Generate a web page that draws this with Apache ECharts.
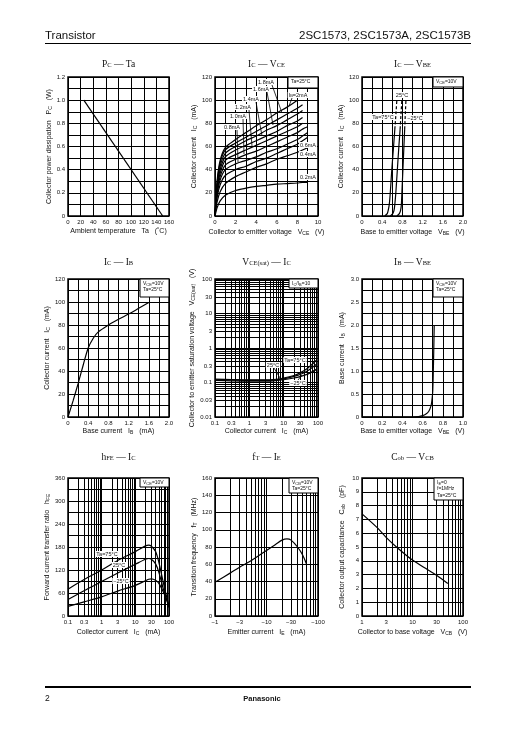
<!DOCTYPE html>
<html><head><meta charset="utf-8">
<script src="https://cdn.jsdelivr.net/npm/echarts@6/dist/echarts.min.js"></script>
<style>html,body{margin:0;padding:0;background:#fff}#c{width:516px;height:729px}</style>
</head><body><div id="c"></div>
<script>
// ---------- DATA ----------
// 1) PC - Ta
const PCTA_TA = [25, 150];
const PCTA_PC = [1.0, 0.0];

// 2) IC - VCE (Ta=25°C), one array per base current
const ICVCE_VCE = [0, 0.2, 0.5, 1, 2, 3, 4, 5, 6, 7, 8, 8.5, 9];
const ICVCE_IB20 = [0, 30, 48, 59, 66, 72, 78, 83, 89, 94, 100, null, null];
const ICVCE_IB18 = [0, 28, 46, 57, 63, 68, 73, 78, 83, 88, 93, 96, null];
const ICVCE_IB16 = [0, 26, 43, 54, 60, 65, 69, 74, 78, 83, 88, 91, null];
const ICVCE_IB14 = [0, 24, 40, 51, 57, 61, 65, 69, 73, 78, 82, 85, null];
const ICVCE_IB12 = [0, 22, 37, 48, 53, 57, 61, 65, 69, 73, 77, 80, null];
const ICVCE_IB10 = [0, 20, 34, 44, 49, 53, 56, 60, 64, 68, 72, 75, 77];
const ICVCE_IB08 = [0, 18, 31, 40, 45, 48, 51, 55, 58, 62, 66, 69, 72];
const ICVCE_IB06 = [0, 16, 27, 35, 40, 43, 47, 50, 54, 58, 62, 65, 68];
const ICVCE_IB04 = [0, 12, 21, 28, 34, 38, 42, 45, 49, 52, 55, 57, 59];
const ICVCE_IB02 = [0, 7, 13, 18, 22, 24, 25.5, 26.5, 27.5, 28, 28.5, 29, 29];

// 3) IC - VBE (VCE=10V)
const ICVBE_IC = [0, 2, 5, 10, 20, 40, 60, 75, 90, 100];
const ICVBE_V75 = [0.45, 0.50, 0.52, 0.54, 0.56, 0.59, 0.625, 0.65, 0.675, 0.69];
const ICVBE_V25 = [0.56, 0.61, 0.635, 0.65, 0.67, 0.70, 0.73, 0.755, 0.775, 0.79];
const ICVBE_VM25 = [0.69, 0.74, 0.765, 0.78, 0.79, 0.81, 0.83, 0.845, 0.86, 0.87];

// 4) IC - IB
const ICIB_IB = [0, 0.1, 0.2, 0.3, 0.4, 0.5, 0.6, 0.8, 1.0, 1.2, 1.4, 1.6];
const ICIB_IC = [0, 14, 29, 45, 60, 68.5, 74, 80, 85, 89.5, 94.5, 99.5];

// 5) VCE(sat) - IC (IC/IB=10)
const VSAT_IC = [0.1, 0.3, 1, 3, 5, 10, 20, 30, 50, 90];
const VSAT_T75 = [0.125, 0.122, 0.12, 0.12, 0.122, 0.135, 0.16, 0.19, 0.26, 0.44];
const VSAT_T25 = [0.12, 0.118, 0.115, 0.115, 0.117, 0.128, 0.15, 0.17, 0.22, 0.34];
const VSAT_TM25 = [0.115, 0.112, 0.11, 0.11, 0.112, 0.12, 0.135, 0.148, 0.175, 0.24];

// 6) IB - VBE
const IBVBE_VBE = [0, 0.5, 0.56, 0.6, 0.63, 0.66, 0.68, 0.69, 0.70, 0.705, 0.71, 0.715];
const IBVBE_IB = [0, 0, 0.01, 0.03, 0.06, 0.12, 0.22, 0.32, 0.55, 0.9, 1.4, 2.0];

// 7) hFE - IC (VCE=10V)
const HFE_IC = [0.1, 0.3, 1, 3, 10, 20, 25, 30, 40, 50, 70, 100];
const HFE_T75 = [70, 95, 120, 145, 168, 183, 185, 182, 168, 140, 82, 25];
const HFE_T25 = [43, 66, 90, 112, 135, 148, 150, 148, 136, 114, 66, 22];
const HFE_TM25 = [25, 37, 50, 65, 80, 92, 96, 97, 93, 85, 60, 28];

// 8) fT - IE (VCB=10V), emitter current magnitude (negative current)
const FT_IE = [1, 2, 3, 5, 10, 15, 20, 25, 30, 40, 50, 60];
const FT_FT = [39, 50, 56.5, 64, 76, 83, 88, 89.5, 88, 80, 71, 60];

// 9) Cob - VCB
const COB_VCB = [1, 2, 3, 5, 10, 20, 30, 50];
const COB_COB = [7.4, 6.4, 5.7, 4.95, 4.05, 3.35, 2.95, 2.35];

// axis tick labels
const LOG_LBL_01_100 = [0.1, 0.3, 1, 3, 10, 30, 100];
const LOG_LBL_001_100 = [0.01, 0.03, 0.1, 0.3, 1, 3, 10, 30, 100];
const LOG_LBL_1_100 = [1, 3, 10, 30, 100];

// ---------- STYLE / HELPERS ----------
const SANS = '"Liberation Sans", Arial, sans-serif';
const SERIF = '"Liberation Serif", "Times New Roman", serif';
const INK = '#111';
const zip = (xs, ys) => xs.map((x, i) => [x, ys[i]]);
const f1 = v => (v === 0 ? '0' : v.toFixed(1));
const nameRich = { s: { fontFamily: SANS, fontSize: 5, color: INK, verticalAlign: 'bottom', padding: [3, 0, 0, 0] } };

const grids = [
  { left: 68, top: 77, width: 101, height: 139 },
  { left: 215, top: 77, width: 103, height: 139 },
  { left: 362, top: 77, width: 101, height: 139 },
  { left: 68, top: 279, width: 101, height: 138 },
  { left: 215, top: 279, width: 103, height: 138 },
  { left: 362, top: 279, width: 101, height: 138 },
  { left: 68, top: 478, width: 101, height: 138 },
  { left: 215, top: 478, width: 103, height: 138 },
  { left: 362, top: 478, width: 101, height: 138 }
].map(g => Object.assign({ show: true, borderColor: '#000', borderWidth: 1.5, backgroundColor: '#fff' }, g));

function baseAxis(g, name, gap) {
  return {
    gridIndex: g, name: name, nameLocation: 'middle', nameGap: gap,
    nameTextStyle: { fontFamily: SANS, fontSize: 7, color: INK, rich: nameRich },
    axisLine: { show: false }, axisTick: { show: false },
    axisLabel: { fontFamily: SANS, fontSize: 6, color: INK, margin: 3, showMinLabel: true, showMaxLabel: true },
    splitLine: { show: true, lineStyle: { color: '#000', width: 1 } }
  };
}
function linAxis(g, min, max, interval, minor, name, gap, fmt) {
  const a = baseAxis(g, name, gap);
  a.type = 'value'; a.min = min; a.max = max; a.interval = interval;
  if (fmt) a.axisLabel.formatter = fmt;
  if (minor > 1) {
    a.minorTick = { show: false, splitNumber: minor };
    a.minorSplitLine = { show: true, lineStyle: { color: '#000', width: 1 } };
  }
  return a;
}
function logAxis(g, min, max, labels, name, gap, fmt) {
  const a = baseAxis(g, name, gap);
  const ticks = [];
  for (let e = Math.round(Math.log10(min)); e < Math.round(Math.log10(max)); e++)
    for (let k = 1; k < 10; k++) ticks.push(Number((k * Math.pow(10, e)).toPrecision(3)));
  ticks.push(max);
  a.type = 'log'; a.logBase = 10; a.min = min; a.max = max;
  a.axisTick = { show: false, customValues: ticks };
  a.axisLabel.customValues = labels;
  a.axisLabel.formatter = fmt || (v => String(Number(Number(v).toPrecision(3))));
  return a;
}
function line(g, data, extra) {
  return Object.assign({
    type: 'line', xAxisIndex: g, yAxisIndex: g, data: data, symbol: 'none',
    smooth: 0.3, silent: true, animation: false, z: 5,
    lineStyle: { color: '#000', width: 1.2 }
  }, extra || {});
}

// ---------- AXES ----------
const xAxes = [
  linAxis(0, 0, 160, 20, 1, 'Ambient temperature   Ta   (˚C)', 12),
  linAxis(1, 0, 10, 2, 2, 'Collector to emitter voltage   V{s|CE}   (V)', 12),
  linAxis(2, 0, 2.0, 0.4, 2, 'Base to emitter voltage   V{s|BE}   (V)', 12, f1),
  linAxis(3, 0, 2.0, 0.4, 2, 'Base current   I{s|B}   (mA)', 10, f1),
  logAxis(4, 0.1, 100, LOG_LBL_01_100, 'Collector current   I{s|C}   (mA)', 10),
  linAxis(5, 0, 1.0, 0.2, 2, 'Base to emitter voltage   V{s|BE}   (V)', 10, f1),
  logAxis(6, 0.1, 100, LOG_LBL_01_100, 'Collector current   I{s|C}   (mA)', 12),
  logAxis(7, 1, 100, LOG_LBL_1_100, 'Emitter current   I{s|E}   (mA)', 12, v => '\u2212' + Math.round(v)),
  logAxis(8, 1, 100, LOG_LBL_1_100, 'Collector to base voltage   V{s|CB}   (V)', 12, v => String(Math.round(v)))
];
const yAxes = [
  linAxis(0, 0, 1.2, 0.2, 2, 'Collector power dissipation   P{s|C}   (W)', 15, f1),
  linAxis(1, 0, 120, 20, 2, 'Collector current   I{s|C}   (mA)', 12),
  linAxis(2, 0, 120, 20, 2, 'Collector current   I{s|C}   (mA)', 13.5),
  linAxis(3, 0, 120, 20, 2, 'Collector current   I{s|C}   (mA)', 15),
  logAxis(4, 0.01, 100, LOG_LBL_001_100, 'Collector to emitter saturation voltage   V{s|CE(sat)}   (V)', 14),
  linAxis(5, 0, 3.0, 0.5, 2, 'Base current   I{s|B}   (mA)', 16, f1),
  linAxis(6, 0, 360, 60, 2, 'Forward current transfer ratio   h{s|FE}', 16),
  linAxis(7, 0, 160, 20, 1, 'Transition frequency   f{s|T}   (MHz)', 14),
  linAxis(8, 0, 10, 1, 1, 'Collector output capacitance   C{s|ob}   (pF)', 16)
];

// ---------- SERIES ----------
const series = [
  line(0, zip(PCTA_TA, PCTA_PC), { smooth: false }),
  line(1, zip(ICVCE_VCE, ICVCE_IB20)), line(1, zip(ICVCE_VCE, ICVCE_IB18)),
  line(1, zip(ICVCE_VCE, ICVCE_IB16)), line(1, zip(ICVCE_VCE, ICVCE_IB14)),
  line(1, zip(ICVCE_VCE, ICVCE_IB12)), line(1, zip(ICVCE_VCE, ICVCE_IB10)),
  line(1, zip(ICVCE_VCE, ICVCE_IB08)), line(1, zip(ICVCE_VCE, ICVCE_IB06)),
  line(1, zip(ICVCE_VCE, ICVCE_IB04)), line(1, zip(ICVCE_VCE, ICVCE_IB02))
];
[ICVBE_V75, ICVBE_V25, ICVBE_VM25].forEach(v => {
  const d = zip(v, ICVBE_IC);
  series.push(line(2, d.slice(0, 8), { smooth: 0.2 }));
  series.push(line(2, d.slice(7), { smooth: 0.2, lineStyle: { color: '#000', width: 1.2, type: [3, 2] } }));
});
series.push(line(3, zip(ICIB_IB, ICIB_IC)));
series.push(line(4, zip(VSAT_IC, VSAT_T75)), line(4, zip(VSAT_IC, VSAT_T25)), line(4, zip(VSAT_IC, VSAT_TM25)));
series.push(line(5, zip(IBVBE_VBE, IBVBE_IB), { smooth: 0.2 }));
series.push(line(6, zip(HFE_IC, HFE_T75)), line(6, zip(HFE_IC, HFE_T25)), line(6, zip(HFE_IC, HFE_TM25)));
series.push(line(7, zip(FT_IE, FT_FT)));
series.push(line(8, zip(COB_VCB, COB_COB)));

// ---------- TITLES ----------
const titleRich = { s: { fontFamily: SERIF, fontSize: 6.5, color: INK, verticalAlign: 'bottom', padding: [3, 0, 0, 0] } };
const titleDefs = [
  ['P{s|C} \u2014 Ta', 118.5, 59], ['I{s|C} \u2014 V{s|CE}', 266.5, 59], ['I{s|C} \u2014 V{s|BE}', 412.5, 59],
  ['I{s|C} \u2014 I{s|B}', 118.5, 257], ['V{s|CE(sat)} \u2014 I{s|C}', 266.5, 257], ['I{s|B} \u2014 V{s|BE}', 412.5, 257],
  ['h{s|FE} \u2014 I{s|C}', 118.5, 452], ['f{s|T} \u2014 I{s|E}', 266.5, 452], ['C{s|ob} \u2014 V{s|CB}', 412.5, 452]
];
const titles = titleDefs.map(t => ({
  text: t[0], left: t[1], top: t[2], textAlign: 'center', padding: 0,
  textStyle: { fontFamily: SERIF, fontSize: 9.5, fontWeight: 'normal', color: INK, rich: titleRich }
}));

// ---------- ANNOTATIONS ----------
const smallRich = { s: { fontFamily: SANS, fontSize: 4, fill: INK, verticalAlign: 'bottom', padding: [2, 0, 0, 0] } };
function txt(s, x, y, opts) {
  return Object.assign({
    type: 'text', z: 100,
    style: Object.assign({ text: s, x: x, y: y, fontFamily: SANS, fontSize: 5.5, fill: INK,
      align: 'center', verticalAlign: 'middle', rich: smallRich }, opts || {})
  });
}
function lbl(s, x, y) { return txt(s, x, y, { backgroundColor: '#fff', padding: [0, 1, 0, 1] }); }
function box(x, y, w, h, lines) {
  const els = [{ type: 'rect', z: 99, shape: { x: x, y: y, width: w, height: h }, style: { fill: '#fff', stroke: '#000', lineWidth: 1 } }];
  lines.forEach((s, i) => els.push(txt(s, x + 3, y + 4.5 + i * 6.5, { align: 'left', fontSize: 5 })));
  return els;
}
function seg(x1, y1, x2, y2, w) {
  return { type: 'line', z: 98, shape: { x1: x1, y1: y1, x2: x2, y2: y2 }, style: { stroke: '#000', lineWidth: w || 0.8 } };
}
const graphic = [].concat(
  // header / footer
  txt('Transistor', 45, 36, { align: 'left', fontSize: 11.5 }),
  txt('2SC1573, 2SC1573A, 2SC1573B', 471, 36, { align: 'right', fontSize: 11.5 }),
  seg(45, 43.5, 471, 43.5, 1),
  seg(45, 687, 471, 687, 2),
  txt('2', 45, 699, { align: 'left', fontSize: 8.5 }),
  txt('Panasonic', 262, 699, { fontSize: 7.5, fontWeight: 'bold' }),
  // IC-VCE
  box(288, 77, 30, 11, ['Ta=25°C']),
  seg(272, 85, 282, 113), seg(267, 92, 273, 125), seg(256, 102, 262, 136),
  seg(249, 110, 252, 146), seg(243, 119, 244, 154), seg(237, 130, 238, 162), seg(292, 98, 289, 106),
  lbl('1.8mA', 266, 82), lbl('1.6mA', 261, 89), lbl('1.4mA', 251, 99), lbl('1.2mA', 243, 107),
  lbl('1.0mA', 238, 116), lbl('0.8mA', 232, 127), lbl('I{s|B}=2mA', 298, 95),
  lbl('0.6mA', 308, 145), lbl('0.4mA', 308, 154), lbl('0.2mA', 308, 177),
  // IC-VBE
  box(433, 77, 30, 10, ['V{s|CE}=10V']),
  lbl('25°C', 402, 95), lbl('Ta=75°C', 383, 117), lbl('\u221225°C', 415, 118),
  // IC-IB
  box(140, 279, 29, 18, ['V{s|CE}=10V', 'Ta=25°C']),
  // VCE(sat)-IC
  box(289, 279, 29, 9, ['I{s|C}/I{s|B}=10']),
  seg(274, 368, 280, 378), seg(298, 380, 302, 375),
  lbl('Ta=75°C', 295, 360), lbl('25°C', 273, 365), lbl('\u221225°C', 298, 383),
  // IB-VBE
  box(433, 279, 30, 18, ['V{s|CE}=10V', 'Ta=25°C']),
  // hFE-IC
  box(140, 478, 29, 9, ['V{s|CE}=10V']),
  lbl('Ta=75°C', 107, 554), lbl('25°C', 119, 565), lbl('\u221225°C', 121, 581),
  // fT-IE
  box(289, 478, 29, 15, ['V{s|CB}=10V', 'Ta=25°C']),
  // Cob-VCB
  box(434, 478, 29, 22, ['I{s|E}=0', 'f=1MHz', 'Ta=25°C'])
);

const chart = echarts.init(document.getElementById('c'), null, { renderer: 'canvas' });
chart.setOption({
  animation: false,
  backgroundColor: '#fff',
  title: titles,
  grid: grids,
  xAxis: xAxes,
  yAxis: yAxes,
  series: series,
  graphic: graphic
});
</script></body></html>
